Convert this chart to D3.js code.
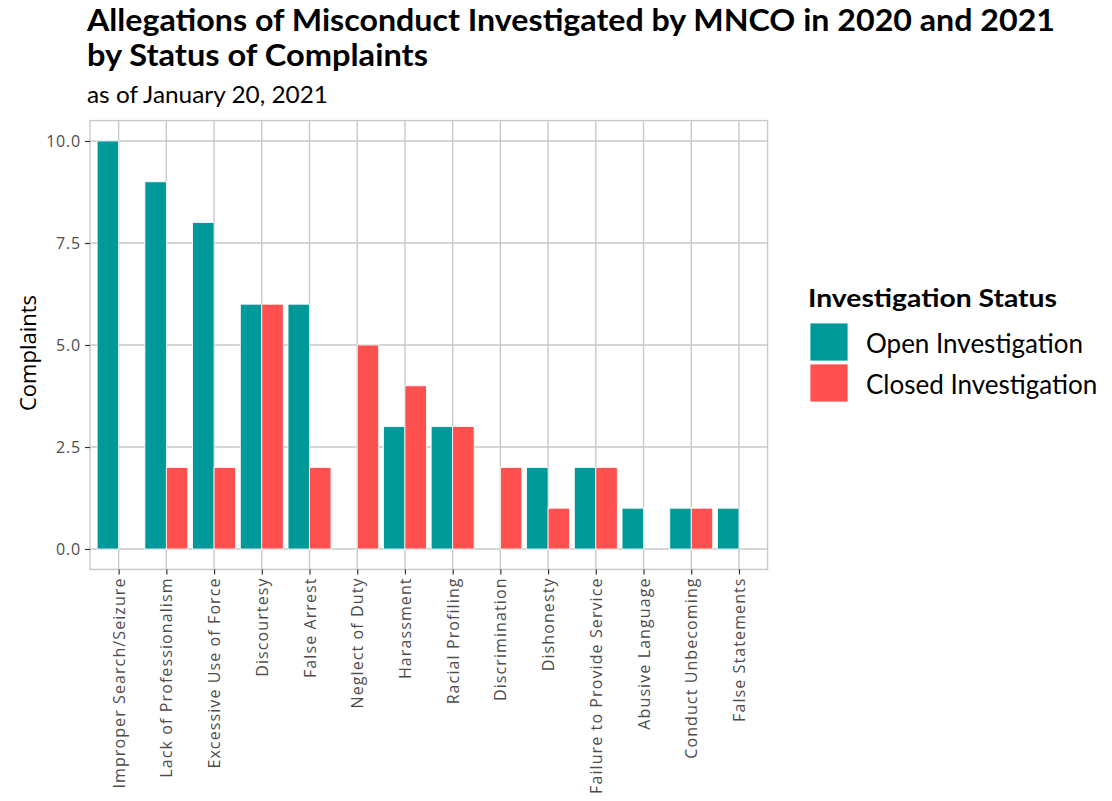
<!DOCTYPE html>
<html>
<head>
<meta charset="utf-8">
<script src="https://cdn.jsdelivr.net/npm/d3@7"></script>
<style>
  body { margin: 0; background: #fff; }
  text { font-family: "Open Sans", sans-serif; }
</style>
</head>
<body>
<svg id="chart" width="1112" height="801"></svg>
<script>
// allegation types, in plot order
var categories = ["Improper Search/Seizure", "Lack of Professionalism", "Excessive Use of Force",
    "Discourtesy", "False Arrest", "Neglect of Duty", "Harassment", "Racial Profiling",
    "Discrimination", "Dishonesty", "Failure to Provide Service", "Abusive Language",
    "Conduct Unbecoming", "False Statements"];
var openValues   = [10, 9, 8, 6, 6, 0, 3, 3, 0, 2, 2, 1, 1, 1];
var closedValues = [0, 2, 2, 6, 2, 5, 4, 3, 2, 1, 2, 0, 1, 0];
var statusNames = ["Open Investigation", "Closed Investigation"];
var statusColors = ["#009999", "#FF5050"];
var yTicks = [0, 2.5, 5, 7.5, 10];

var svg = d3.select("#chart");
var pLeft = 90, pRight = 767.6, pTop = 120.6, pBottom = 569.4;

var x = d3.scalePoint().domain(categories).range([pLeft, pRight]).padding(0.6);
var step = x.step();
var xSub = d3.scaleBand().domain([0, 1]).range([-0.45 * step, 0.45 * step]);
var y = d3.scaleLinear().domain([-0.5, 10.5]).range([pBottom, pTop]);

var grid = "#C9C9C9";

// grid lines
svg.append("g").selectAll("line")
    .data(yTicks).enter().append("line")
    .attr("x1", pLeft).attr("x2", pRight)
    .attr("y1", function(d) { return y(d); }).attr("y2", function(d) { return y(d); })
    .attr("stroke", grid).attr("stroke-width", 1.4);
svg.append("g").selectAll("line")
    .data(categories).enter().append("line")
    .attr("y1", pTop).attr("y2", pBottom)
    .attr("x1", function(d) { return x(d); }).attr("x2", function(d) { return x(d); })
    .attr("stroke", grid).attr("stroke-width", 1.4);

// bars
var rows = [];
categories.forEach(function(c, i) {
    rows.push({cat: c, s: 0, v: openValues[i]});
    rows.push({cat: c, s: 1, v: closedValues[i]});
});
svg.append("g").selectAll("rect")
    .data(rows.filter(function(d) { return d.v > 0; }))
    .enter().append("rect")
    .attr("x", function(d) { return x(d.cat) + xSub(d.s); })
    .attr("width", xSub.bandwidth())
    .attr("y", function(d) { return y(d.v); })
    .attr("height", function(d) { return y(0) - y(d.v); })
    .attr("fill", function(d) { return statusColors[d.s]; })
    .attr("stroke", "#fff").attr("stroke-width", 0.8);

// panel border
svg.append("rect")
    .attr("x", pLeft).attr("y", pTop)
    .attr("width", pRight - pLeft).attr("height", pBottom - pTop)
    .attr("fill", "none").attr("stroke", grid).attr("stroke-width", 1.4);

// y axis
var yAxis = svg.append("g")
    .attr("transform", "translate(" + pLeft + ",0)")
    .call(d3.axisLeft(y).tickValues(yTicks).tickFormat(d3.format(".1f")).tickSize(5).tickPadding(4));
yAxis.select(".domain").remove();
yAxis.selectAll(".tick line").attr("stroke", "#333").attr("stroke-width", 1.2);
yAxis.selectAll(".tick text")
    .attr("fill", "#4D4D4D")
    .style("font-size", "16px")
    .style("letter-spacing", "0.8px")
    .style("font-family", "Open Sans");

// x axis
var xAxis = svg.append("g")
    .attr("transform", "translate(0," + pBottom + ")")
    .call(d3.axisBottom(x).tickSize(5).tickPadding(4));
xAxis.select(".domain").remove();
xAxis.selectAll(".tick line").attr("stroke", "#333").attr("stroke-width", 1.2);
xAxis.selectAll(".tick text")
    .attr("fill", "#4D4D4D")
    .attr("transform", "rotate(-90)")
    .attr("text-anchor", "end")
    .attr("x", -8).attr("y", 0).attr("dy", "0.35em")
    .style("font-size", "16px")
    .style("letter-spacing", "1.1px")
    .style("font-family", "Open Sans");

// y label
svg.append("text")
    .attr("transform", "translate(28,353) rotate(-90)")
    .attr("text-anchor", "middle")
    .attr("dy", "0.35em")
    .style("font-size", "22px")
    .attr("fill", "#000")
    .text("Complaints");

// titles
svg.append("text")
    .attr("x", 87).attr("y", 31)
    .style("font-family", "Lato").style("font-weight", "bold").style("font-size", "30px")
    .attr("textLength", 968).attr("lengthAdjust", "spacingAndGlyphs")
    .text("Allegations of Misconduct Investigated by MNCO in 2020 and 2021");
svg.append("text")
    .attr("x", 87).attr("y", 66)
    .style("font-family", "Lato").style("font-weight", "bold").style("font-size", "30px")
    .attr("textLength", 341).attr("lengthAdjust", "spacingAndGlyphs")
    .text("by Status of Complaints");
svg.append("text")
    .attr("x", 87).attr("y", 103)
    .style("font-family", "Lato").style("font-size", "23px")
    .attr("textLength", 241).attr("lengthAdjust", "spacingAndGlyphs")
    .text("as of January 20, 2021");

// legend
var legend = svg.append("g").attr("transform", "translate(808,0)");
legend.append("text")
    .attr("x", 0).attr("y", 307)
    .style("font-family", "Lato").style("font-weight", "bold").style("font-size", "24px")
    .attr("textLength", 249).attr("lengthAdjust", "spacingAndGlyphs")
    .text("Investigation Status");
var keys = legend.selectAll("g.key")
    .data(statusNames).enter().append("g")
    .attr("transform", function(d, i) { return "translate(0," + (323 + i * 41) + ")"; });
keys.append("rect")
    .attr("x", 2).attr("width", 38).attr("height", 38)
    .attr("fill", function(d, i) { return statusColors[i]; })
    .attr("stroke", "#fff").attr("stroke-width", 0.8);
keys.append("text")
    .attr("x", 58).attr("y", 21).attr("dy", "0.35em")
    .style("font-family", "Lato").style("font-size", "26px")
    .text(function(d) { return d; });
</script>
</body>
</html>
